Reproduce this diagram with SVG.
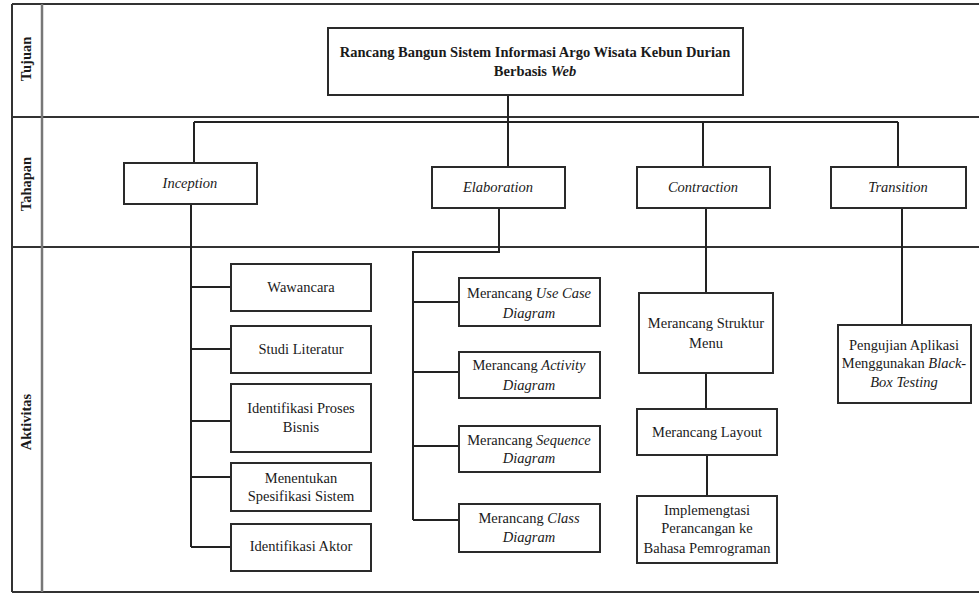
<svg xmlns="http://www.w3.org/2000/svg" width="979" height="596" viewBox="0 0 979 596">
<style>
text{font-family:"Liberation Serif","Times New Roman",serif;font-size:14.5px;fill:#1a1a1a;text-anchor:middle}
.b{font-weight:bold}
.i{font-style:italic}
.box{fill:#fff;stroke:#2a2a2a;stroke-width:2}
.ln{fill:none;stroke:#222;stroke-width:2}
.frame{fill:none;stroke:#333;stroke-width:2}
</style>
<rect width="979" height="596" fill="#fff"/>
<g id="frame">
<path class="frame" d="M12,4H979M12,117H979M12,247H979M12,592H979M12,4V592"/>
<path d="M42,4V592" stroke="#777" stroke-width="2.5" fill="none"/>
<text class="b" transform="translate(31,59) rotate(-90)">Tujuan</text>
<text class="b" transform="translate(31,184) rotate(-90)">Tahapan</text>
<text class="b" transform="translate(31,422) rotate(-90)">Aktivitas</text>
</g>
<g id="connectors">
<path class="ln" d="M508,95V167"/>
<path class="ln" d="M194,122H898M194,122V163M703,122V167M898,122V167"/>
<path class="ln" d="M191,204V547M191,287H231M191,349H231M191,421H231M191,477H231M191,547H231"/>
<path class="ln" d="M499,208V252H413V520M413,302H459M413,372H459M413,446H459M413,520H459"/>
<path class="ln" d="M706,208V293M706,373V409M707,455V496"/>
<path class="ln" d="M902,208V325"/>
</g>
<g id="title">
<rect class="box" x="328" y="28" width="415" height="67"/>
<text class="b" x="535" y="57">Rancang Bangun Sistem Informasi Argo Wisata Kebun Durian</text>
<text class="b" x="535" y="76">Berbasis <tspan class="i">Web</tspan></text>
</g>
<g id="inception">
<rect class="box" x="124" y="163" width="133" height="41"/>
<text class="i" x="190" y="188">Inception</text>
</g>
<g id="elaboration">
<rect class="box" x="432" y="167" width="133" height="41"/>
<text class="i" x="498" y="192">Elaboration</text>
</g>
<g id="contraction">
<rect class="box" x="637" y="167" width="133" height="41"/>
<text class="i" x="703" y="192">Contraction</text>
</g>
<g id="transition">
<rect class="box" x="831" y="167" width="135" height="41"/>
<text class="i" x="898" y="192">Transition</text>
</g>
<g id="wawancara">
<rect class="box" x="231" y="264" width="140" height="47"/>
<text x="301" y="292">Wawancara</text>
</g>
<g id="studi-literatur">
<rect class="box" x="231" y="326" width="140" height="47"/>
<text x="301" y="354">Studi Literatur</text>
</g>
<g id="identifikasi-proses">
<rect class="box" x="231" y="384" width="140" height="68"/>
<text x="301" y="413">Identifikasi Proses</text>
<text x="301" y="432">Bisnis</text>
</g>
<g id="menentukan-spesifikasi">
<rect class="box" x="231" y="463" width="140" height="48"/>
<text x="301" y="483">Menentukan</text>
<text x="301" y="501">Spesifikasi Sistem</text>
</g>
<g id="identifikasi-aktor">
<rect class="box" x="231" y="524" width="140" height="47"/>
<text x="301" y="551">Identifikasi Aktor</text>
</g>
<g id="use-case">
<rect class="box" x="459" y="278" width="141" height="48"/>
<text x="529" y="298">Merancang <tspan class="i">Use Case</tspan></text>
<text class="i" x="529" y="318">Diagram</text>
</g>
<g id="activity">
<rect class="box" x="459" y="352" width="141" height="46"/>
<text x="529" y="370">Merancang <tspan class="i">Activity</tspan></text>
<text class="i" x="529" y="390">Diagram</text>
</g>
<g id="sequence">
<rect class="box" x="459" y="426" width="141" height="46"/>
<text x="529" y="445">Merancang <tspan class="i">Sequence</tspan></text>
<text class="i" x="529" y="463">Diagram</text>
</g>
<g id="class">
<rect class="box" x="459" y="504" width="141" height="48"/>
<text x="529" y="523">Merancang <tspan class="i">Class</tspan></text>
<text class="i" x="529" y="542">Diagram</text>
</g>
<g id="struktur-menu">
<rect class="box" x="639" y="293" width="134" height="80"/>
<text x="706" y="328">Merancang Struktur</text>
<text x="706" y="348">Menu</text>
</g>
<g id="layout">
<rect class="box" x="637" y="409" width="140" height="46"/>
<text x="707" y="437">Merancang Layout</text>
</g>
<g id="implementasi">
<rect class="box" x="637" y="496" width="140" height="67"/>
<text x="707" y="515">Implemengtasi</text>
<text x="707" y="533">Perancangan ke</text>
<text x="707" y="553">Bahasa Pemrograman</text>
</g>
<g id="pengujian">
<rect class="box" x="838" y="325" width="133" height="78"/>
<text x="904" y="350">Pengujian Aplikasi</text>
<text x="904" y="368">Menggunakan <tspan class="i">Black-</tspan></text>
<text class="i" x="904" y="387">Box Testing</text>
</g>
</svg>
